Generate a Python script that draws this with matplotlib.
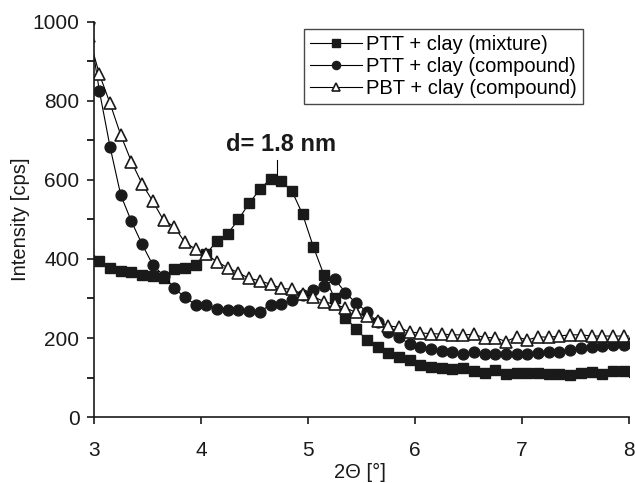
import numpy as np
import matplotlib
matplotlib.use('Agg')
import matplotlib.pyplot as plt
from matplotlib.ticker import MultipleLocator

plt.rcParams['font.family'] = ['Liberation Sans', 'DejaVu Sans']

# 2-theta positions (first and last points sit just outside the 3-8 window)
two_theta = np.round(np.arange(2.95, 8.06, 0.1), 2)

ptt_mixture = [398, 395, 378, 370, 366, 359, 357, 351, 375, 378, 385,
               413, 446, 464, 500, 541, 576, 603, 597, 572, 513,
               431, 359, 300, 251, 223, 195, 178, 163, 153, 144,
               132, 127, 123, 122, 123, 117, 112, 119, 110, 112,
               112, 112, 110, 110, 106, 112, 115, 110, 117, 116, 115]

ptt_compound = [1000, 826, 684, 562, 495, 437, 385, 358, 326, 303, 284,
                284, 273, 271, 271, 268, 267, 284, 285, 296, 309,
                322, 332, 349, 315, 288, 267, 240, 214, 202, 185,
                176, 171, 168, 164, 159, 164, 159, 159, 159, 159,
                159, 161, 164, 165, 170, 174, 178, 180, 182, 182, 183]

pbt_compound = [965, 868, 794, 714, 646, 590, 546, 498, 482, 442, 425,
                412, 393, 378, 365, 351, 345, 336, 326, 323, 311,
                305, 292, 285, 276, 265, 255, 242, 231, 227, 215,
                213, 211, 210, 208, 208, 209, 201, 201, 191, 203,
                195, 203, 202, 205, 208, 208, 205, 205, 205, 205, 205]

fig = plt.figure(figsize=(6.35, 4.83), dpi=100)
ax = fig.add_axes([0.148, 0.1366, 0.8425, 0.818])

ax.plot(two_theta, ptt_mixture, 'k-', lw=0.8, marker='s', ms=7,
        mfc='#1a1a1a', mec='#1a1a1a', label='PTT + clay (mixture)')
ax.plot(two_theta, ptt_compound, 'k-', lw=0.8, marker='o', ms=7.8,
        mfc='#1a1a1a', mec='#1a1a1a', label='PTT + clay (compound)')
ax.plot(two_theta, pbt_compound, 'k-', lw=0.8, marker='^', ms=8.3,
        mfc='white', mec='#1a1a1a', mew=1.2, label='PBT + clay (compound)')

ax.set_xlim(3, 8)
ax.set_ylim(0, 1000)
ax.xaxis.set_major_locator(MultipleLocator(1))
ax.yaxis.set_major_locator(MultipleLocator(200))
ax.yaxis.set_minor_locator(MultipleLocator(100))
ax.tick_params(axis='both', which='major', direction='out', length=5,
               width=1.2, labelsize=15, colors='#1a1a1a')
ax.tick_params(axis='x', which='major', pad=12)
ax.tick_params(axis='y', which='major', pad=5.5)
ax.tick_params(axis='y', which='minor', direction='out', length=5, width=1.2)
for s in ['top', 'right']:
    ax.spines[s].set_visible(False)
for s in ['left', 'bottom']:
    ax.spines[s].set_linewidth(1.2)
    ax.spines[s].set_color('#1a1a1a')

ax.set_xlabel('2\u0398 [\u00b0]', fontsize=14.5, color='#1a1a1a')
ax.set_ylabel('Intensity [cps]', fontsize=14.5, color='#1a1a1a')
ax.xaxis.set_label_coords(0.497, -0.115)
ax.yaxis.set_label_coords(-0.12, 0.5)

# peak annotation
ax.plot([4.707, 4.707], [613, 651], 'k-', lw=0.8)
ax.text(4.75, 689, 'd= 1.8 nm', fontsize=17, fontweight='bold',
        ha='center', va='center', color='#1a1a1a')

leg = ax.legend(loc='upper right', bbox_to_anchor=(0.914, 0.982), fontsize=14.5,
                frameon=True, fancybox=False, edgecolor='#1a1a1a',
                markerscale=0.75, handlelength=2.6, handletextpad=0.2,
                borderpad=0.3, labelspacing=0.15, borderaxespad=0)
leg.get_frame().set_linewidth(1.0)

fig.savefig('out.png', dpi=100)
